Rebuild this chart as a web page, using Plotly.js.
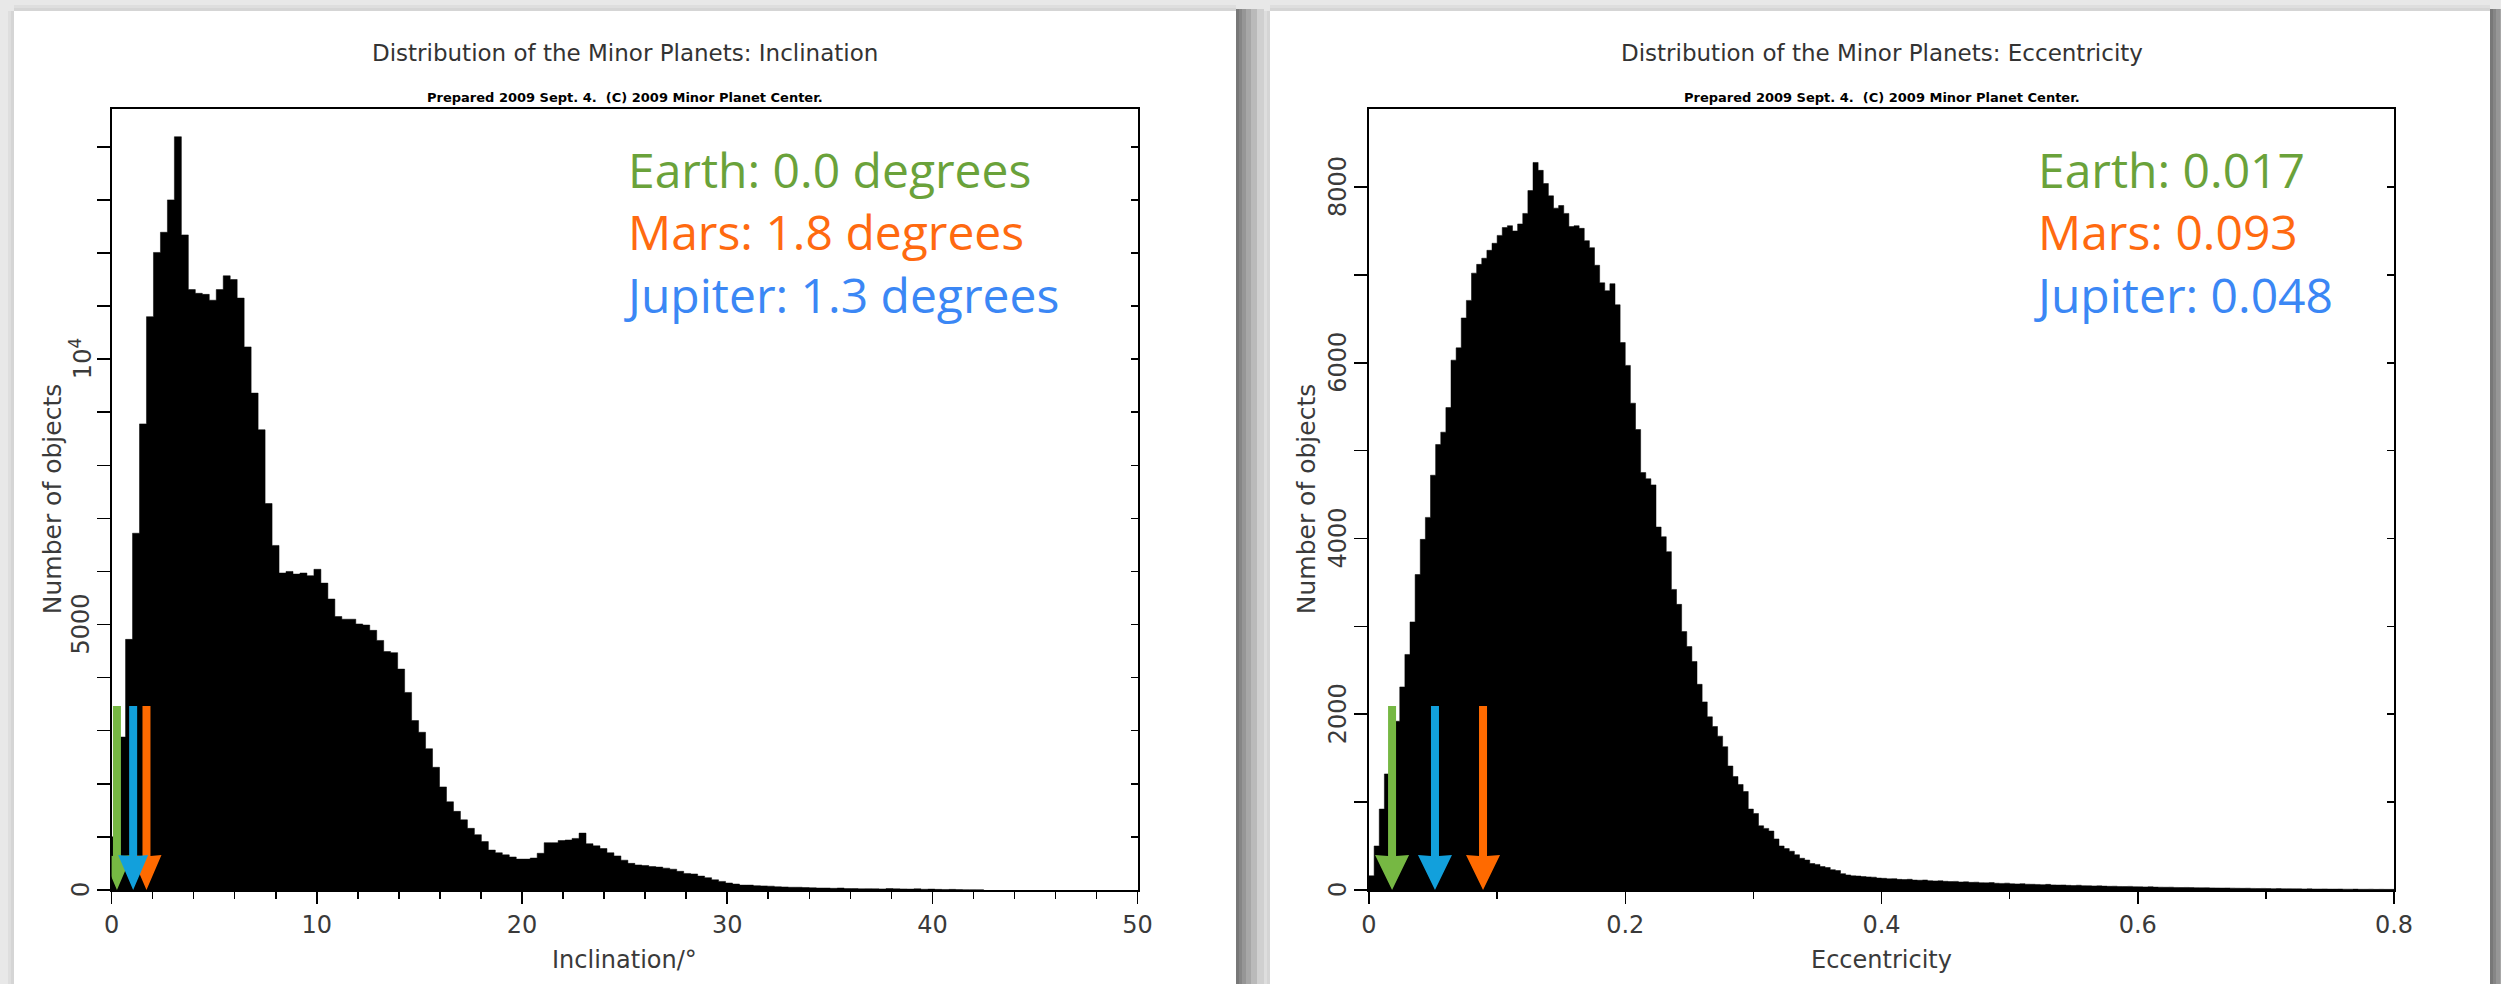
<!DOCTYPE html>
<html>
<head>
<meta charset="utf-8">
<script src="https://cdn.plot.ly/plotly-3.0.1.min.js"></script>
<style>
html,body{margin:0;padding:0;background:#e8e8e8;overflow:hidden}
#chart{width:2501px;height:984px}
</style>
</head>
<body>
<div id="chart"></div>
<script>
// ---------------- DATA ----------------
// Inclination histogram: bin width (degrees) and counts per bin starting at 0 deg
const inclBinWidth = 0.34;
const inclCounts = [
  1000, 2880, 4720, 6720, 8780, 10800, 12010, 12390, 13000, 14190,
  12340, 11310, 11240, 11220, 11110, 11310, 11570, 11500, 11150, 10230,
  9360, 8670, 7280, 6490, 5970, 6000, 5950, 5970, 5920, 6040,
  5780, 5480, 5150, 5100, 5100, 5010, 4990, 4890, 4700, 4490,
  4470, 4160, 3720, 3190, 2970, 2660, 2310, 1940, 1660, 1480,
  1320, 1160, 1040, 910, 750, 700, 660, 620, 580, 580,
  600, 690, 890, 890, 930, 940, 970, 1070, 870, 830,
  780, 700, 640, 560, 500, 470, 460, 440, 430, 410,
  390, 350, 310, 300, 260, 230, 190, 160, 130, 110,
  90, 90, 80, 75, 70, 60, 55, 50, 50, 45,
  40, 35, 35, 30, 35, 25, 25, 20, 22, 20,
  18, 25, 20, 18, 15, 20, 12, 15, 10, 8,
  10, 6, 5, 5, 4
];

// Eccentricity histogram: bin width and counts per bin starting at e = 0
const eccBinWidth = 0.004;
const eccCounts = [
  160, 500, 920, 1320, 1650, 1920, 2310, 2680, 3050, 3590,
  3990, 4240, 4720, 5070, 5210, 5490, 6030, 6170, 6510, 6710,
  7020, 7120, 7190, 7280, 7360, 7450, 7540, 7560, 7500, 7580,
  7700, 7960, 8280, 8190, 8040, 7900, 7760, 7790, 7700, 7550,
  7560, 7530, 7390, 7310, 7110, 6910, 6820, 6900, 6660, 6230,
  5970, 5540, 5240, 4750, 4680, 4610, 4130, 4020, 3850, 3420,
  3250, 2940, 2770, 2600, 2340, 2140, 1970, 1860, 1750, 1630,
  1410, 1290, 1200, 1120, 920, 870, 730, 700, 670, 580,
  500, 470, 440, 400, 360, 340, 300, 290, 265, 255,
  230, 220, 185, 170, 160, 158, 152, 148, 145, 135,
  132, 126, 128, 120, 118, 121, 112, 110, 113, 105,
  102, 104, 98, 95, 97, 90, 92, 86, 88, 82,
  80, 83, 76, 74, 77, 70, 68, 71, 65, 64,
  62, 60, 63, 57, 55, 56, 52, 50, 53, 48,
  47, 45, 46, 43, 41, 42, 39, 38, 40, 36,
  35, 34, 36, 32, 31, 30, 31, 28, 27, 28,
  26, 25, 24, 25, 23, 22, 21, 22, 20, 19,
  18, 19, 17, 16, 17, 15, 14, 15, 13, 13,
  12, 12, 11, 12, 10, 10, 11, 9, 9, 10,
  8, 8, 9, 7, 7, 8, 6, 7, 6, 6
];

// Axis ranges and tick labels
const inclRange = [0, 50];
const inclCountRange = [0, 14720];
const inclYTickVals = [0, 5000, 10000];
const inclYTickText = ['0', '5000', '10<sup>4</sup>'];
const eccRange = [0, 0.8];
const eccCountRange = [0, 8893];
const eccYTickVals = [0, 2000, 4000, 6000, 8000];
const eccYTickText = ['0', '2000', '4000', '6000', '8000'];

// Planet annotations
const planetNames = ['Earth', 'Mars', 'Jupiter'];
const planetColors = ['#6aa23a', '#ff6a10', '#3b87f5'];
const arrowColors = ['#76b843', '#ff6a00', '#12a0dc'];
const planetIncl = ['0.0', '1.8', '1.3'];
const planetEcc = ['0.017', '0.093', '0.048'];
// arrow positions as drawn on the picture
const inclArrowX = [0.26, 1.7, 1.05];
const eccArrowX = [0.018, 0.089, 0.0515];

const titles = ['Distribution of the Minor Planets: Inclination', 'Distribution of the Minor Planets: Eccentricity'];
const subtitle = 'Prepared 2009 Sept. 4.  (C) 2009 Minor Planet Center.';
const xTitles = ['Inclination/\u00b0', 'Eccentricity'];
const yTitle = 'Number of objects';

// ---------------- LAYOUT HELPERS ----------------
const W = 2501, H = 984;
const PX = v => v / W;
const PY = v => 1 - v / H;
const plotFont = 'DejaVu Sans, sans-serif';
const labelFont = 'Open Sans, Noto Sans, sans-serif';

const panels = [
  {left: 111.6, right: 1137.6, top: 108.6, bottom: 889.9, ylab: 81, ytitle: 52},
  {left: 1369, right: 2394, top: 108.6, bottom: 889.9, ylab: 1338, ytitle: 1306}
];

function stepTrace(width, counts, xa, ya) {
  const xs = [], ys = [];
  for (let i = 0; i < counts.length; i++) { xs.push(i * width); ys.push(counts[i]); }
  xs.push(counts.length * width); ys.push(0);
  return {
    type: 'scatter', mode: 'lines', x: xs, y: ys, xaxis: xa, yaxis: ya,
    line: {shape: 'hv', color: '#000', width: 0.5},
    fill: 'tozeroy', fillcolor: '#000', hoverinfo: 'skip', showlegend: false
  };
}

const data = [
  stepTrace(inclBinWidth, inclCounts, 'x', 'y'),
  stepTrace(eccBinWidth, eccCounts, 'x2', 'y2'),
  {type: 'scatter', x: [null], y: [null], xaxis: 'x', yaxis: 'y3', showlegend: false, hoverinfo: 'skip'},
  {type: 'scatter', x: [null], y: [null], xaxis: 'x2', yaxis: 'y4', showlegend: false, hoverinfo: 'skip'}
];

const tickFont = {family: plotFont, size: 24, color: '#3a3a3a'};

function xAxis(p, range, dtick, minor, ya) {
  return {
    domain: [PX(p.left), PX(p.right)], range: range, anchor: ya, tickmode: 'linear', tick0: 0, dtick: dtick,
    ticks: 'outside', ticklen: 12, tickwidth: 1.5, tickcolor: '#000',
    minor: {tickmode: 'linear', tick0: 0, dtick: minor, ticks: 'outside', ticklen: 7, tickwidth: 1.5, tickcolor: '#000'},
    showline: true, linewidth: 2, linecolor: '#000', mirror: true,
    showgrid: false, zeroline: false, tickfont: tickFont, fixedrange: true
  };
}
function yAxis(p, range, xa) {
  return {
    domain: [PY(p.bottom), PY(p.top)], range: range, anchor: xa,
    tickmode: 'linear', tick0: 0, dtick: 1000, showticklabels: false,
    ticks: 'outside', ticklen: 13, tickwidth: 1.5, tickcolor: '#000',
    showline: true, linewidth: 2, linecolor: '#000', mirror: true,
    showgrid: false, zeroline: false, fixedrange: true
  };
}
function yInner(range, over, xa) {
  return {
    overlaying: over, side: 'right', anchor: xa, range: range,
    tickmode: 'linear', tick0: 0, dtick: 1000, ticks: 'inside', ticklen: 7, tickwidth: 1.5, tickcolor: '#000',
    showticklabels: false, showline: false, showgrid: false, zeroline: false, fixedrange: true
  };
}

// ---------------- SHAPES (cards, arrows) ----------------
const shapes = [];
function card(x0, x1) {
  [28, 21, 15, 10, 6, 3].forEach(w => {
    shapes.push({type: 'rect', xref: 'paper', yref: 'paper', layer: 'below',
      x0: PX(x1), x1: PX(x1 + w), y0: 0, y1: PY(11 - 2), fillcolor: 'rgba(0,0,0,0.10)', line: {width: 0}});
  });
  [6, 3].forEach(w => {
    shapes.push({type: 'rect', xref: 'paper', yref: 'paper', layer: 'below',
      x0: PX(x0 - w), x1: PX(x0), y0: 0, y1: PY(11), fillcolor: 'rgba(0,0,0,0.04)', line: {width: 0}});
    shapes.push({type: 'rect', xref: 'paper', yref: 'paper', layer: 'below',
      x0: PX(x0), x1: PX(x1), y0: PY(11), y1: PY(11 - w), fillcolor: 'rgba(0,0,0,0.04)', line: {width: 0}});
  });
  shapes.push({type: 'rect', xref: 'paper', yref: 'paper', layer: 'below',
    x0: PX(x0), x1: PX(x1), y0: 0, y1: PY(11), fillcolor: '#ffffff', line: {width: 0}});
}
card(14, 1236);
card(1270, 2490);

function arrow(xVal, xa, ya, color, half) {
  const shaftTop = 184, headH = 35, sw = 4;
  shapes.push({
    type: 'path', layer: 'above', xref: xa, yref: ya,
    xsizemode: 'pixel', ysizemode: 'pixel', xanchor: xVal, yanchor: 0,
    path: `M ${-sw} ${shaftTop} L ${sw} ${shaftTop} L ${sw} ${headH - 1} L ${half} ${headH} L 0 0 L ${-half} ${headH} L ${-sw} ${headH - 1} Z`,
    fillcolor: color, line: {width: 0}
  });
}
for (let i = 0; i < 3; i++) {
  arrow(inclArrowX[i], 'x', 'y', arrowColors[i], 15);
  arrow(eccArrowX[i], 'x2', 'y2', arrowColors[i], 17);
}

// ---------------- ANNOTATIONS ----------------
const ann = [];
function text(t, px, py, font, extra) {
  ann.push(Object.assign({text: t, x: PX(px), y: PY(py), xref: 'paper', yref: 'paper',
    showarrow: false, xanchor: 'center', yanchor: 'middle', font: font}, extra || {}));
}
const yTickSets = [[inclYTickVals, inclYTickText, 'y'], [eccYTickVals, eccYTickText, 'y2']];
panels.forEach((p, k) => {
  const cx = (p.left + p.right) / 2;
  text(titles[k], cx, 53, {family: plotFont, size: 23, color: '#333'});
  text(subtitle, cx, 97, {family: plotFont, size: 13, color: '#000', weight: 'bold'});
  text(xTitles[k], cx, 960, {family: plotFont, size: 24, color: '#3a3a3a'});
  text(yTitle, p.ytitle, (p.top + p.bottom) / 2, {family: plotFont, size: 25, color: '#3a3a3a'}, {textangle: -90});
  const [vals, labs, yr] = yTickSets[k];
  vals.forEach((v, j) => {
    ann.push({text: labs[j], x: PX(p.ylab), y: v, xref: 'paper', yref: yr, showarrow: false,
      xanchor: 'center', yanchor: 'middle', textangle: -90, font: tickFont});
  });
});
// planet legends: one block of three coloured lines per chart
const inclLines = planetNames.map((n, i) => `<span style="color:${planetColors[i]}">${n}: ${planetIncl[i]} degrees</span>`);
const eccLines = planetNames.map((n, i) => `<span style="color:${planetColors[i]}">${n}: ${planetEcc[i]}</span>`);
text(inclLines.join('<br>'), 622, 232, {family: labelFont, size: 48, color: planetColors[0]}, {xanchor: 'left', align: 'left'});
text(eccLines.join('<br>'), 2032, 232, {family: labelFont, size: 48, color: planetColors[0]}, {xanchor: 'left', align: 'left'});

const layout = {
  width: W, height: H,
  margin: {l: 0, r: 0, t: 0, b: 0},
  paper_bgcolor: '#e8e8e8', plot_bgcolor: 'rgba(0,0,0,0)',
  showlegend: false,
  xaxis: xAxis(panels[0], inclRange, 10, 2, 'y'),
  yaxis: yAxis(panels[0], inclCountRange, 'x'),
  xaxis2: xAxis(panels[1], eccRange, 0.2, 0.1, 'y2'),
  yaxis2: yAxis(panels[1], eccCountRange, 'x2'),
  yaxis3: yInner(inclCountRange, 'y', 'x'),
  yaxis4: yInner(eccCountRange, 'y2', 'x2'),
  shapes: shapes,
  annotations: ann
};

Plotly.newPlot('chart', data, layout, {displayModeBar: false, staticPlot: true});
</script>
</body>
</html>
